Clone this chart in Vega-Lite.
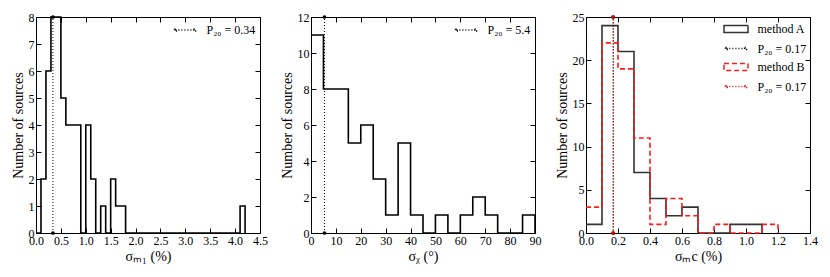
{
  "$schema": "https://vega.github.io/schema/vega-lite/v6.json",
  "padding": {"left": 10, "top": 10, "right": 5, "bottom": 5},
  "bounds": "flush",
  "spacing": 51,
  "resolve": {
    "scale": {"stroke": "independent", "fill": "independent", "shape": "independent", "strokeDash": "independent"},
    "legend": {"stroke": "independent", "fill": "independent", "shape": "independent", "strokeDash": "independent"}
  },
  "datasets": {
    "p1": [
      {"series": "hist", "x": 0.0, "n": 0}, {"series": "hist", "x": 0.1, "n": 2}, {"series": "hist", "x": 0.2, "n": 6},
      {"series": "hist", "x": 0.3, "n": 8}, {"series": "hist", "x": 0.4, "n": 8}, {"series": "hist", "x": 0.5, "n": 5},
      {"series": "hist", "x": 0.6, "n": 4}, {"series": "hist", "x": 0.7, "n": 4}, {"series": "hist", "x": 0.8, "n": 4},
      {"series": "hist", "x": 0.9, "n": 0}, {"series": "hist", "x": 1.0, "n": 4}, {"series": "hist", "x": 1.1, "n": 2},
      {"series": "hist", "x": 1.2, "n": 0}, {"series": "hist", "x": 1.3, "n": 1}, {"series": "hist", "x": 1.4, "n": 0},
      {"series": "hist", "x": 1.5, "n": 2}, {"series": "hist", "x": 1.6, "n": 1}, {"series": "hist", "x": 1.7, "n": 1},
      {"series": "hist", "x": 1.8, "n": 0}, {"series": "hist", "x": 1.9, "n": 0}, {"series": "hist", "x": 2.0, "n": 0},
      {"series": "hist", "x": 2.1, "n": 0}, {"series": "hist", "x": 2.2, "n": 0}, {"series": "hist", "x": 2.3, "n": 0},
      {"series": "hist", "x": 2.4, "n": 0}, {"series": "hist", "x": 2.5, "n": 0}, {"series": "hist", "x": 2.6, "n": 0},
      {"series": "hist", "x": 2.7, "n": 0}, {"series": "hist", "x": 2.8, "n": 0}, {"series": "hist", "x": 2.9, "n": 0},
      {"series": "hist", "x": 3.0, "n": 0}, {"series": "hist", "x": 3.1, "n": 0}, {"series": "hist", "x": 3.2, "n": 0},
      {"series": "hist", "x": 3.3, "n": 0}, {"series": "hist", "x": 3.4, "n": 0}, {"series": "hist", "x": 3.5, "n": 0},
      {"series": "hist", "x": 3.6, "n": 0}, {"series": "hist", "x": 3.7, "n": 0}, {"series": "hist", "x": 3.8, "n": 0},
      {"series": "hist", "x": 3.9, "n": 0}, {"series": "hist", "x": 4.0, "n": 0}, {"series": "hist", "x": 4.1, "n": 1},
      {"series": "hist", "x": 4.2, "n": 0},
      {"series": "P", "x": 0.34, "n": 0}, {"series": "P", "x": 0.34, "n": 8}
    ],
    "p2": [
      {"series": "hist", "x": 0, "n": 11}, {"series": "hist", "x": 5, "n": 8}, {"series": "hist", "x": 10, "n": 8},
      {"series": "hist", "x": 15, "n": 5}, {"series": "hist", "x": 20, "n": 6}, {"series": "hist", "x": 25, "n": 3},
      {"series": "hist", "x": 30, "n": 1}, {"series": "hist", "x": 35, "n": 5}, {"series": "hist", "x": 40, "n": 1},
      {"series": "hist", "x": 45, "n": 0}, {"series": "hist", "x": 50, "n": 1}, {"series": "hist", "x": 55, "n": 0},
      {"series": "hist", "x": 60, "n": 1}, {"series": "hist", "x": 65, "n": 2}, {"series": "hist", "x": 70, "n": 1},
      {"series": "hist", "x": 75, "n": 0}, {"series": "hist", "x": 80, "n": 0}, {"series": "hist", "x": 85, "n": 1},
      {"series": "hist", "x": 90, "n": 0},
      {"series": "P", "x": 5.4, "n": 0}, {"series": "P", "x": 5.4, "n": 12}
    ],
    "p3": [
      {"series": "A", "x": 0.0, "n": 1}, {"series": "A", "x": 0.1, "n": 24}, {"series": "A", "x": 0.2, "n": 21},
      {"series": "A", "x": 0.3, "n": 7}, {"series": "A", "x": 0.4, "n": 4}, {"series": "A", "x": 0.5, "n": 2},
      {"series": "A", "x": 0.6, "n": 3}, {"series": "A", "x": 0.7, "n": 0}, {"series": "A", "x": 0.8, "n": 0},
      {"series": "A", "x": 0.9, "n": 1}, {"series": "A", "x": 1.0, "n": 1}, {"series": "A", "x": 1.1, "n": 0},
      {"series": "B", "x": 0.0, "n": 3}, {"series": "B", "x": 0.1, "n": 22}, {"series": "B", "x": 0.2, "n": 19},
      {"series": "B", "x": 0.3, "n": 11}, {"series": "B", "x": 0.4, "n": 1}, {"series": "B", "x": 0.5, "n": 4},
      {"series": "B", "x": 0.6, "n": 2}, {"series": "B", "x": 0.7, "n": 0}, {"series": "B", "x": 0.8, "n": 1},
      {"series": "B", "x": 0.9, "n": 0}, {"series": "B", "x": 1.0, "n": 0}, {"series": "B", "x": 1.1, "n": 1},
      {"series": "B", "x": 1.2, "n": 0},
      {"series": "PA", "x": 0.17, "n": 0}, {"series": "PA", "x": 0.17, "n": 25},
      {"series": "PB", "x": 0.17, "n": 0}, {"series": "PB", "x": 0.17, "n": 25}
    ]
  },
  "hconcat": [
    {
      "width": 224, "height": 216,
      "data": {"name": "p1"},
      "layer": [
        {
          "transform": [{"filter": {"field": "series", "equal": "hist"}}],
          "mark": {"type": "line", "interpolate": "step-after", "color": "black", "strokeWidth": 1.6},
          "encoding": {
            "x": {"field": "x", "type": "quantitative", "scale": {"domain": [0, 4.5], "nice": false, "zero": false},
                  "axis": {"values": [0, 0.5, 1, 1.5, 2, 2.5, 3, 3.5, 4, 4.5], "format": ".1f", "title": "σₘ₁ (%)"}},
            "y": {"field": "n", "type": "quantitative", "scale": {"domain": [0, 8], "nice": false},
                  "axis": {"values": [0, 1, 2, 3, 4, 5, 6, 7, 8], "title": "Number of sources"}}
          }
        },
        {
          "transform": [{"filter": {"field": "series", "equal": "P"}}],
          "mark": {"type": "line", "color": "black", "strokeWidth": 1, "strokeDash": [1, 2]},
          "encoding": {
            "x": {"field": "x", "type": "quantitative", "axis": null},
            "y": {"field": "n", "type": "quantitative", "axis": null}
          }
        },
        {
          "transform": [{"filter": {"field": "series", "equal": "P"}}],
          "mark": {"type": "point", "filled": true, "color": "black", "size": 14, "opacity": 1},
          "encoding": {
            "x": {"field": "x", "type": "quantitative", "axis": {"orient": "top", "labels": false, "title": null, "values": [0, 0.5, 1, 1.5, 2, 2.5, 3, 3.5, 4, 4.5]}},
            "y": {"field": "n", "type": "quantitative", "axis": {"orient": "right", "labels": false, "title": null, "values": [0, 1, 2, 3, 4, 5, 6, 7, 8]}}
          }
        },
        {
          "transform": [{"filter": {"field": "series", "equal": "P"}}],
          "mark": {"type": "point", "filled": true, "opacity": 0},
          "encoding": {
            "x": {"field": "x", "type": "quantitative", "axis": null},
            "y": {"field": "n", "type": "quantitative", "axis": null},
            "stroke": {"field": "series", "type": "nominal", "scale": {"domain": ["P"], "range": ["black"]},
                       "legend": {"title": null, "orient": "none", "legendX": 142, "legendY": 6, "labelExpr": "'P₂₀ = 0.34'"}},
            "fill": {"field": "series", "type": "nominal", "scale": {"domain": ["P"], "range": ["black"]},
                     "legend": {"title": null, "orient": "none", "legendX": 142, "legendY": 6, "labelExpr": "'P₂₀ = 0.34'"}},
            "shape": {"field": "series", "type": "nominal", "scale": {"domain": ["P"], "range": ["M-1.6,0H1.6M-1.75,-0.15H-1.45V0.15H-1.75ZM1.45,-0.15H1.75V0.15H1.45Z"]},
                      "legend": {"title": null, "orient": "none", "legendX": 142, "legendY": 6, "labelExpr": "'P₂₀ = 0.34'"}},
            "strokeDash": {"field": "series", "type": "nominal", "scale": {"domain": ["P"], "range": [[1, 2]]},
                           "legend": {"title": null, "orient": "none", "legendX": 142, "legendY": 6, "labelExpr": "'P₂₀ = 0.34'"}}
          }
        }
      ],
      "resolve": {"axis": {"x": "independent", "y": "independent"}}
    },
    {
      "width": 224, "height": 216,
      "data": {"name": "p2"},
      "layer": [
        {
          "transform": [{"filter": {"field": "series", "equal": "hist"}}],
          "mark": {"type": "line", "interpolate": "step-after", "color": "black", "strokeWidth": 1.6},
          "encoding": {
            "x": {"field": "x", "type": "quantitative", "scale": {"domain": [0, 90], "nice": false, "zero": false},
                  "axis": {"values": [0, 10, 20, 30, 40, 50, 60, 70, 80, 90], "title": "σᵪ (°)"}},
            "y": {"field": "n", "type": "quantitative", "scale": {"domain": [0, 12], "nice": false},
                  "axis": {"values": [0, 2, 4, 6, 8, 10, 12], "title": "Number of sources"}}
          }
        },
        {
          "transform": [{"filter": {"field": "series", "equal": "P"}}],
          "mark": {"type": "line", "color": "black", "strokeWidth": 1, "strokeDash": [1, 2]},
          "encoding": {
            "x": {"field": "x", "type": "quantitative", "axis": null},
            "y": {"field": "n", "type": "quantitative", "axis": null}
          }
        },
        {
          "transform": [{"filter": {"field": "series", "equal": "P"}}],
          "mark": {"type": "point", "filled": true, "color": "black", "size": 14, "opacity": 1},
          "encoding": {
            "x": {"field": "x", "type": "quantitative", "axis": {"orient": "top", "labels": false, "title": null, "values": [0, 10, 20, 30, 40, 50, 60, 70, 80, 90]}},
            "y": {"field": "n", "type": "quantitative", "axis": {"orient": "right", "labels": false, "title": null, "values": [0, 2, 4, 6, 8, 10, 12]}}
          }
        },
        {
          "transform": [{"filter": {"field": "series", "equal": "P"}}],
          "mark": {"type": "point", "filled": true, "opacity": 0},
          "encoding": {
            "x": {"field": "x", "type": "quantitative", "axis": null},
            "y": {"field": "n", "type": "quantitative", "axis": null},
            "stroke": {"field": "series", "type": "nominal", "scale": {"domain": ["P"], "range": ["black"]},
                       "legend": {"title": null, "orient": "none", "legendX": 148, "legendY": 6, "labelExpr": "'P₂₀ = 5.4'"}},
            "fill": {"field": "series", "type": "nominal", "scale": {"domain": ["P"], "range": ["black"]},
                     "legend": {"title": null, "orient": "none", "legendX": 148, "legendY": 6, "labelExpr": "'P₂₀ = 5.4'"}},
            "shape": {"field": "series", "type": "nominal", "scale": {"domain": ["P"], "range": ["M-1.6,0H1.6M-1.75,-0.15H-1.45V0.15H-1.75ZM1.45,-0.15H1.75V0.15H1.45Z"]},
                      "legend": {"title": null, "orient": "none", "legendX": 148, "legendY": 6, "labelExpr": "'P₂₀ = 5.4'"}},
            "strokeDash": {"field": "series", "type": "nominal", "scale": {"domain": ["P"], "range": [[1, 2]]},
                           "legend": {"title": null, "orient": "none", "legendX": 148, "legendY": 6, "labelExpr": "'P₂₀ = 5.4'"}}
          }
        }
      ],
      "resolve": {"axis": {"x": "independent", "y": "independent"}}
    },
    {
      "width": 224, "height": 216,
      "data": {"name": "p3"},
      "layer": [
        {
          "transform": [{"filter": {"field": "series", "equal": "A"}}],
          "mark": {"type": "line", "interpolate": "step-after", "color": "#333333", "strokeWidth": 1.6},
          "encoding": {
            "x": {"field": "x", "type": "quantitative", "scale": {"domain": [0, 1.4], "nice": false, "zero": false},
                  "axis": {"values": [0, 0.2, 0.4, 0.6, 0.8, 1.0, 1.2, 1.4], "format": ".1f", "title": "σₘc (%)"}},
            "y": {"field": "n", "type": "quantitative", "scale": {"domain": [0, 25], "nice": false},
                  "axis": {"values": [0, 5, 10, 15, 20, 25], "title": "Number of sources"}}
          }
        },
        {
          "transform": [{"filter": {"field": "series", "equal": "B"}}],
          "mark": {"type": "line", "interpolate": "step-after", "color": "#ff1a1a", "strokeWidth": 1.6, "strokeDash": [5, 3]},
          "encoding": {
            "x": {"field": "x", "type": "quantitative", "axis": null},
            "y": {"field": "n", "type": "quantitative", "axis": null}
          }
        },
        {
          "transform": [{"filter": {"field": "series", "equal": "PA"}}],
          "mark": {"type": "line", "color": "black", "strokeWidth": 1, "strokeDash": [1, 2]},
          "encoding": {
            "x": {"field": "x", "type": "quantitative", "axis": null},
            "y": {"field": "n", "type": "quantitative", "axis": null}
          }
        },
        {
          "transform": [{"filter": {"field": "series", "equal": "PB"}}],
          "mark": {"type": "line", "color": "#e00000", "strokeWidth": 1, "strokeDash": [1, 2], "strokeDashOffset": 1},
          "encoding": {
            "x": {"field": "x", "type": "quantitative", "axis": null},
            "y": {"field": "n", "type": "quantitative", "axis": null}
          }
        },
        {
          "transform": [{"filter": {"field": "series", "equal": "PA"}}],
          "mark": {"type": "point", "filled": true, "color": "black", "size": 14, "opacity": 1},
          "encoding": {
            "x": {"field": "x", "type": "quantitative", "axis": {"orient": "top", "labels": false, "title": null, "values": [0, 0.2, 0.4, 0.6, 0.8, 1.0, 1.2, 1.4]}},
            "y": {"field": "n", "type": "quantitative", "axis": {"orient": "right", "labels": false, "title": null, "values": [0, 5, 10, 15, 20, 25]}}
          }
        },
        {
          "transform": [{"filter": {"field": "series", "equal": "PB"}}],
          "mark": {"type": "point", "filled": true, "color": "#e00000", "size": 14, "opacity": 1},
          "encoding": {
            "x": {"field": "x", "type": "quantitative", "axis": null},
            "y": {"field": "n", "type": "quantitative", "axis": null}
          }
        },
        {
          "mark": {"type": "point", "filled": true, "opacity": 0},
          "encoding": {
            "x": {"field": "x", "type": "quantitative", "axis": null},
            "y": {"field": "n", "type": "quantitative", "axis": null},
            "stroke": {"field": "series", "type": "nominal", "scale": {"domain": ["A", "PA", "B", "PB"], "range": ["#333333", "black", "#ff1a1a", "#e00000"]},
                       "legend": {"title": null, "orient": "none", "legendX": 143, "legendY": 5, "labelExpr": "datum.value == 'A' ? 'method A' : datum.value == 'B' ? 'method B' : 'P₂₀ = 0.17'"}},
            "fill": {"field": "series", "type": "nominal", "scale": {"domain": ["A", "PA", "B", "PB"], "range": ["transparent", "black", "transparent", "#e00000"]},
                     "legend": {"title": null, "orient": "none", "legendX": 143, "legendY": 5, "labelExpr": "datum.value == 'A' ? 'method A' : datum.value == 'B' ? 'method B' : 'P₂₀ = 0.17'"}},
            "shape": {"field": "series", "type": "nominal", "scale": {"domain": ["A", "PA", "B", "PB"], "range": ["M-2,-0.6H2V0.6H-2Z", "M-1.6,0H1.6M-1.75,-0.15H-1.45V0.15H-1.75ZM1.45,-0.15H1.75V0.15H1.45Z", "M-2,-0.6H2V0.6H-2Z", "M-1.6,0H1.6M-1.75,-0.15H-1.45V0.15H-1.75ZM1.45,-0.15H1.75V0.15H1.45Z"]},
                      "legend": {"title": null, "orient": "none", "legendX": 143, "legendY": 5, "labelExpr": "datum.value == 'A' ? 'method A' : datum.value == 'B' ? 'method B' : 'P₂₀ = 0.17'"}},
            "strokeDash": {"field": "series", "type": "nominal", "scale": {"domain": ["A", "PA", "B", "PB"], "range": [[1, 0], [1, 2], [5, 3], [1, 2]]},
                           "legend": {"title": null, "orient": "none", "legendX": 143, "legendY": 5, "labelExpr": "datum.value == 'A' ? 'method A' : datum.value == 'B' ? 'method B' : 'P₂₀ = 0.17'"}}
          }
        }
      ],
      "resolve": {"axis": {"x": "independent", "y": "independent"}}
    }
  ],
  "config": {
    "font": "Liberation Serif",
    "view": {"stroke": "black", "strokeWidth": 1},
    "axis": {
      "grid": false, "domainColor": "black", "domainWidth": 1, "tickColor": "black", "tickWidth": 1,
      "tickSize": -5, "labelPadding": 7, "labelFont": "Liberation Serif", "labelFontSize": 12, "labelColor": "black",
      "labelFlush": false, "labelOverlap": false,
      "titleFont": "Liberation Serif", "titleFontSize": 14, "titleFontWeight": "normal", "titleColor": "black", "titlePadding": 3
    },
    "legend": {
      "symbolSize": 144, "symbolStrokeWidth": 1.5, "labelFont": "Liberation Serif", "labelFontSize": 12,
      "labelColor": "black", "labelOffset": 14.5, "rowPadding": 5.5, "padding": 0
    }
  }
}
